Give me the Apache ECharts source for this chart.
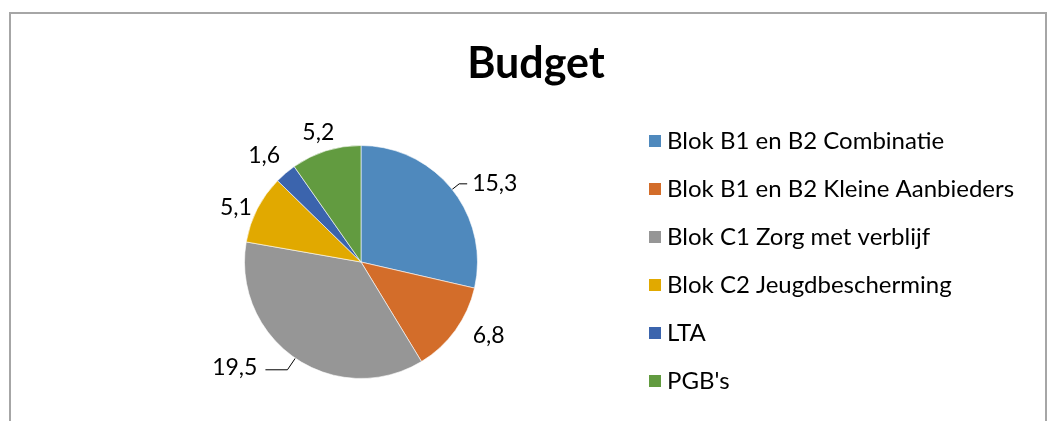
<!DOCTYPE html>
<html>
<head>
    <meta charset="UTF-8">
    <title>Budget</title>
    <script src="https://cdn.jsdelivr.net/npm/echarts@6/dist/echarts.min.js"></script>
    <style>
        body { margin: 0; background: #fff; }
        #main { width: 1048px; height: 421px; }
    </style>
</head>
<body>
<div id="main"></div>
<script type="text/javascript">
    // data
    var categories = ['Blok B1 en B2 Combinatie', 'Blok B1 en B2 Kleine Aanbieders', 'Blok C1 Zorg met verblijf',
        'Blok C2 Jeugdbescherming', 'LTA', "PGB's"];
    var values = [15.3, 6.8, 19.5, 5.1, 1.6, 5.2];
    var colors = ['#4f89bd', '#d36d2a', '#969696', '#e1a900', '#3b64ad', '#629b40'];

    var font = 'Lato, "Open Sans", sans-serif';

    // label nudges (Excel "best fit" placement)
    var labelOffsets = [[0, 0], [-3, 0], [-3, -2], [11, 3], [11, -12], [24, -10]];

    var myChart = echarts.init(document.getElementById('main'));
    var option = {
        animation: false,
        backgroundColor: '#fff',
        color: colors,
        title: {
            text: 'Budget',
            left: 531,
            top: 38,
            textAlign: 'center',
            textStyle: { fontFamily: font, fontSize: 43, fontWeight: 'bold', color: '#000' }
        },
        graphic: [{
            type: 'rect',
            shape: { x: 10, y: 13, width: 1036, height: 430 },
            style: { fill: 'none', stroke: '#a6a6a6', lineWidth: 2 },
            silent: true
        }],
        legend: {
            orient: 'vertical',
            left: 642,
            top: 123,
            icon: 'rect',
            itemWidth: 14,
            itemHeight: 14,
            itemGap: 22,
            data: categories,
            textStyle: { fontFamily: font, fontSize: 24, color: '#000', lineHeight: 26 }
        },
        series: [{
            type: 'pie',
            center: [361, 262],
            radius: 116.5,
            startAngle: 90,
            clockwise: true,
            itemStyle: { borderColor: '#fff', borderWidth: 0.6 },
            label: {
                show: true,
                position: 'outside',
                formatter: function (p) { return String(p.value).replace('.', ','); },
                fontFamily: font,
                fontSize: 23,
                color: '#000'
            },
            labelLine: {
                show: false,
                length: 9,
                length2: 8,
                lineStyle: { color: '#000', width: 1 }
            },
            labelLayout: function (p) {
                var o = labelOffsets[p.dataIndex];
                return { dx: o[0], dy: o[1] };
            },
            data: categories.map(function (name, i) {
                var item = { name: name, value: values[i] };
                if (i === 0) item.labelLine = { show: true };
                if (i === 2) item.labelLine = { show: true, length: 14, length2: 22 };
                return item;
            })
        }]
    };
    myChart.setOption(option);
</script>
</body>
</html>
